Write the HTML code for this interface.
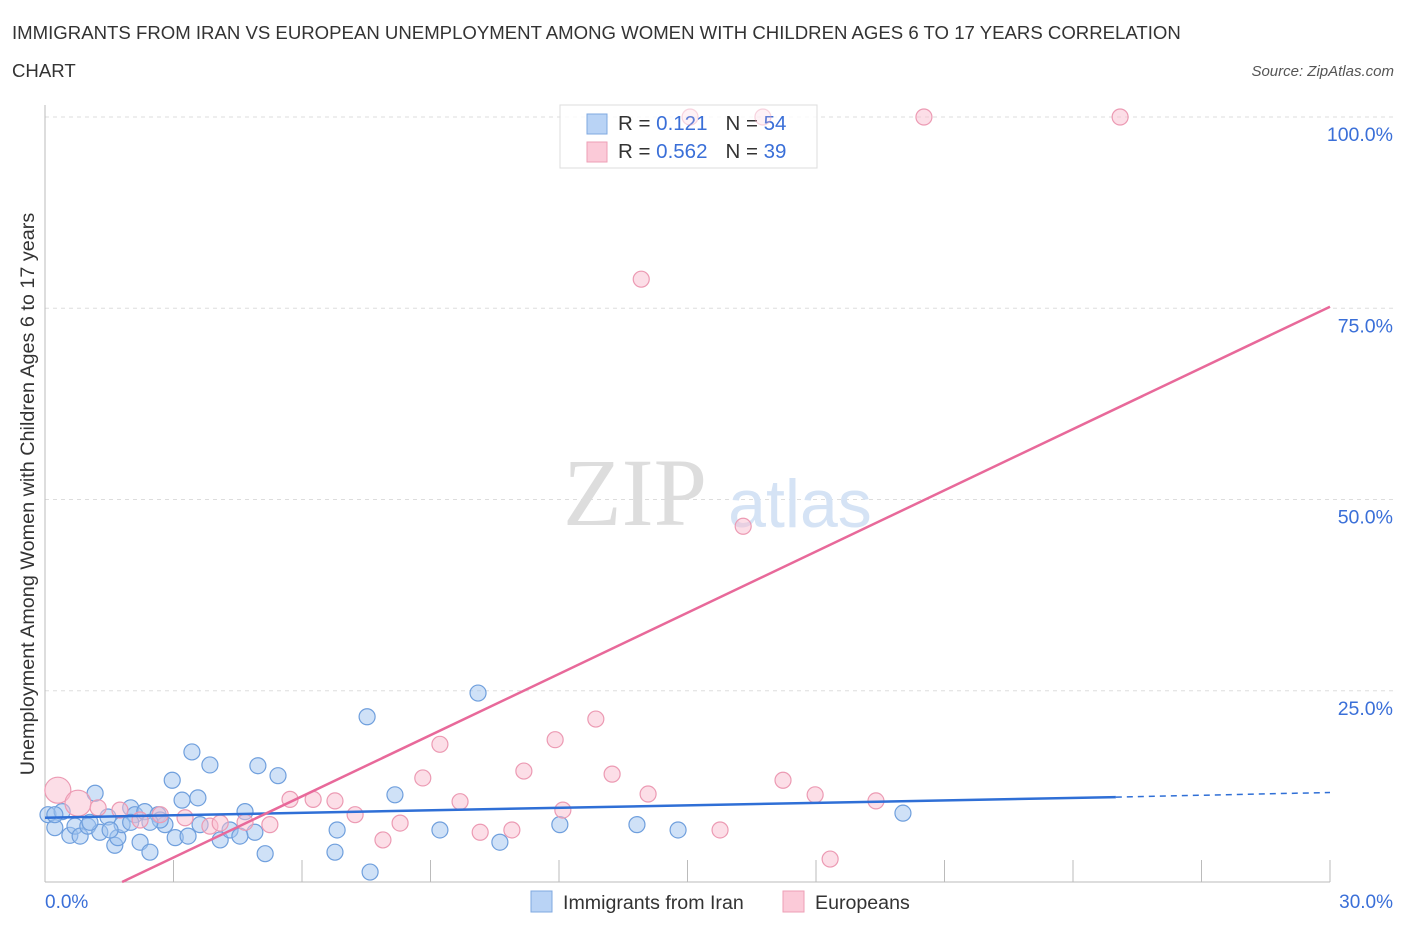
<!DOCTYPE html>
<html><head><meta charset="utf-8"><style>
body{margin:0;background:#fff;font-family:"Liberation Sans",sans-serif;}
</style></head><body>
<svg width="1406" height="930" xmlns="http://www.w3.org/2000/svg" id="svg">
<text x="12" y="39" font-size="18.6" fill="#333">IMMIGRANTS FROM IRAN VS EUROPEAN UNEMPLOYMENT AMONG WOMEN WITH CHILDREN AGES 6 TO 17 YEARS CORRELATION</text>
<text x="12" y="77" font-size="18.6" fill="#333">CHART</text>
<text x="1394" y="76" font-size="15" fill="#555" text-anchor="end" font-style="italic">Source: ZipAtlas.com</text>
<g id="grid"></g>
<text x="635" y="525" font-size="96" fill="#ddd" font-family="Liberation Serif,serif" text-anchor="middle">ZIP</text>
<text x="800" y="527" font-size="68" fill="#d5e3f5" text-anchor="middle">atlas</text>
<g>
<rect x="560" y="105" width="257" height="63" fill="#fff" fill-opacity="0.8" stroke="#ddd"/>
<rect x="587" y="114" width="20" height="20" fill="#b9d3f5" stroke="#7fa8e0"/>
<rect x="587" y="142" width="20" height="20" fill="#fbcad8" stroke="#ee9fb6"/>
<text x="618" y="130" font-size="20.5" fill="#333">R = <tspan fill="#3a6fd8"> 0.121</tspan><tspan dx="18">N = </tspan><tspan fill="#3a6fd8">54</tspan></text>
<text x="618" y="158" font-size="20.5" fill="#333">R = <tspan fill="#3a6fd8">0.562</tspan><tspan dx="18">N = </tspan><tspan fill="#3a6fd8">39</tspan></text>
</g>
<g id="pts"></g>
<g id="lines"></g>
<text transform="translate(34,494) rotate(-90)" font-size="19.8" fill="#333" text-anchor="middle">Unemployment Among Women with Children Ages 6 to 17 years</text>
<text x="45" y="908" font-size="19" fill="#3a6fd8">0.0%</text>
<text x="1393" y="908" font-size="19" fill="#3a6fd8" text-anchor="end">30.0%</text>
<g>
<rect x="531" y="891" width="21" height="21" fill="#b9d3f5" stroke="#7fa8e0"/>
<text x="563" y="909" font-size="19.6" fill="#333">Immigrants from Iran</text>
<rect x="783" y="891" width="21" height="21" fill="#fbcad8" stroke="#ee9fb6"/>
<text x="815" y="909" font-size="19.6" fill="#333">Europeans</text>
</g>
</svg>
<script>
const yTicks=[25,50,75,100];
const yTickLabels=["25.0%","50.0%","75.0%","100.0%"];
const iranX=[0.07,0.23,0.4,0.58,0.7,0.82,1.0,1.17,1.28,1.47,1.63,1.7,1.8,2.0,2.1,2.22,2.33,2.45,2.64,2.8,2.97,3.04,3.2,3.34,3.43,3.57,3.85,4.09,4.32,4.67,4.9,4.97,5.14,5.44,6.82,6.77,7.52,7.59,8.17,9.22,10.11,10.62,12.02,13.82,14.78,20.03,0.23,1.05,2.0,2.69,2.45,3.62,4.55,1.52];
const iranY=[8.8,7.1,9.2,6.1,7.3,6.0,7.3,11.6,6.5,8.5,4.8,5.8,7.5,9.7,8.8,5.2,9.2,3.9,8.8,7.5,13.3,5.8,10.7,6.0,17.0,11.0,15.3,5.5,6.8,9.2,6.5,15.2,3.7,13.9,6.8,3.9,21.6,1.3,11.4,6.8,24.7,5.2,7.5,7.5,6.8,9.0,8.8,7.8,7.8,8.1,7.8,7.5,6.0,6.8];
const euroX=[0.3,0.77,1.24,1.75,2.22,2.69,3.27,3.85,4.09,4.67,5.25,5.72,6.26,6.77,7.24,7.89,8.29,8.82,9.22,9.69,10.16,10.9,11.18,11.91,12.09,12.86,13.24,13.92,14.08,15.06,15.76,16.3,16.76,17.23,17.98,18.33,19.4,20.52,25.1];
const euroY=[12.0,10.3,9.7,9.4,8.1,8.8,8.4,7.3,7.7,7.8,7.5,10.8,10.8,10.6,8.8,5.5,7.7,13.6,18.0,10.5,6.5,6.8,14.5,18.6,9.4,21.3,14.1,78.8,11.5,100,6.8,46.5,100,13.3,11.4,3.0,10.6,100,100];
const euroBig=[0,1];
const iranTrend=[[0,8.4],[25,11.1],[30,11.7]];
const euroTrend=[[1.8,0],[30,75.2]];
const X=v=>45+v*(1285/30), Y=v=>882-v*(765/100);
const NS="http://www.w3.org/2000/svg";
function mk(t,a,p){const e=document.createElementNS(NS,t);for(const k in a)e.setAttribute(k,a[k]);p.appendChild(e);return e;}
const g=document.getElementById('grid');
yTicks.forEach((t,i)=>{
 const l=mk('line',{x1:45,x2:1395,y1:Y(t),y2:Y(t),stroke:'#ddd','stroke-dasharray':'4,4'},g);
 
 
 const tx=mk('text',{x:1393,y:Y(t)+24,'font-size':19.5,fill:'#3a6fd8','text-anchor':'end'},g);
 tx.textContent=yTickLabels[i];
 
 
});
mk('line',{x1:45,x2:45,y1:105,y2:882,stroke:'#bbb'},g);
mk('line',{x1:45,x2:1330,y1:882,y2:882,stroke:'#bbb'},g);
for(let i=0;i<=10;i++){const t=mk('line',{x1:X(i*3),x2:X(i*3),y1:860,y2:882,stroke:'#bbb'},g);
 
 }
const p=document.getElementById('pts');
iranX.forEach((x,i)=>{const c=mk('circle',{cx:X(x),cy:Y(iranY[i]),r:8,fill:'rgba(160,195,240,0.5)',stroke:'#6f9fdd','stroke-width':1.2},p);
 
 });
euroX.forEach((x,i)=>{const c=mk('circle',{cx:X(x),cy:Y(euroY[i]),r:euroBig.includes(i)?13:8,fill:'rgba(250,190,208,0.5)',stroke:'#ec9ab3','stroke-width':1.2,'stroke-opacity':(euroY[i]>=100&&x<17)?0.4:1,'fill-opacity':(euroY[i]>=100&&x<17)?0.4:1},p);
 
 });
const L=document.getElementById('lines');
let a=mk('line',{x1:X(iranTrend[0][0]),y1:Y(iranTrend[0][1]),x2:X(iranTrend[1][0]),y2:Y(iranTrend[1][1]),stroke:'#2f6fd6','stroke-width':2.5},L);


a=mk('line',{x1:X(iranTrend[1][0]),y1:Y(iranTrend[1][1]),x2:X(iranTrend[2][0]),y2:Y(iranTrend[2][1]),stroke:'#2f6fd6','stroke-width':1.5,'stroke-dasharray':'6,5'},L);


a=mk('line',{x1:X(euroTrend[0][0]),y1:Y(euroTrend[0][1]),x2:X(euroTrend[1][0]),y2:Y(euroTrend[1][1]),stroke:'#e8699a','stroke-width':2.5},L);


</script>
</body></html>
